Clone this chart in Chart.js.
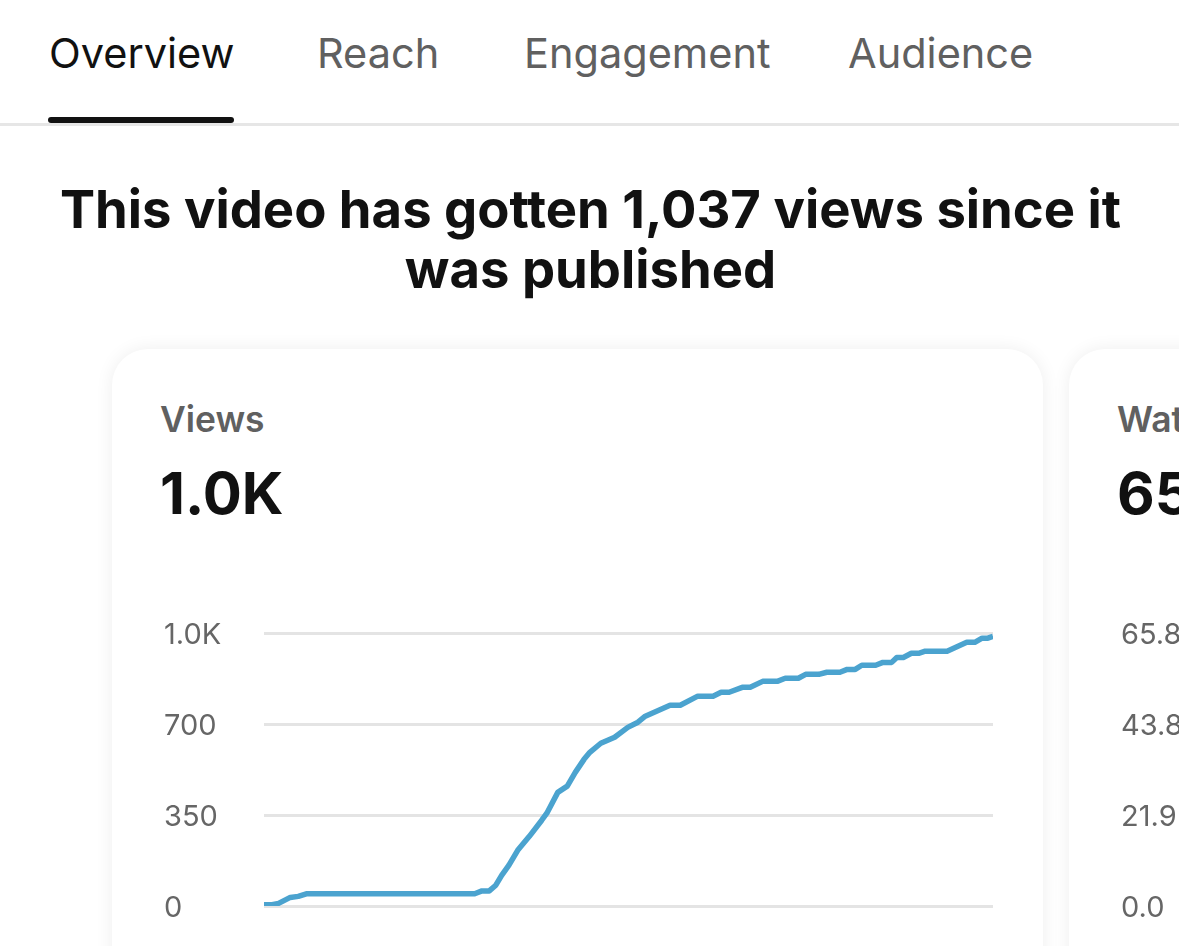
<!DOCTYPE html>
<html>
<head>
<meta charset="utf-8">
<title>Overview</title>
<script src="https://cdn.jsdelivr.net/npm/chart.js@4/dist/chart.umd.min.js"></script>
<style>
  html, body { margin: 0; height: 100%; background: #fff; overflow: hidden; }
  body { position: relative; width: 1179px; height: 946px; font-family: Inter, sans-serif; color: #111; }
  .tab { position: absolute; top: 29px; font-size: 41.5px; line-height: 48px; color: #606060; white-space: nowrap; }
  .tab.active { color: #111; }
  #underline { position: absolute; left: 48px; top: 117px; width: 186px; height: 6px; border-radius: 3px; background: #111; }
  #divider { position: absolute; left: 0; top: 123px; width: 1179px; height: 3px; background: #e6e6e6; }
  h1 { position: absolute; left: 0; top: 179px; width: 1181px; margin: 0; text-align: center; font-size: 52.6px; line-height: 60px; font-weight: 700; white-space: nowrap; }
  .card { position: absolute; top: 349px; height: 700px; background: #fff; border-radius: 36px; box-shadow: 0 0 18px rgba(0,0,0,.07); }
  .card-title { position: absolute; font-size: 35.4px; line-height: 40px; top: 400px; font-weight: 600; color: #606060; white-space: nowrap; }
  .card-value { position: absolute; font-size: 58px; line-height: 68px; top: 459px; font-weight: 700; white-space: nowrap; }
  canvas { position: absolute; top: 600px; }
</style>
</head>
<body>
  <div class="tab active" style="left:49px">Overview</div>
  <div class="tab" style="left:317px">Reach</div>
  <div class="tab" style="left:524px">Engagement</div>
  <div class="tab" style="left:848px">Audience</div>
  <div id="divider"></div>
  <div id="underline"></div>
  <h1>This video has gotten 1,037 views since it<br>was published</h1>

  <div class="card" style="left:112px;width:931px"></div>
  <div class="card" style="left:1069px;width:931px"></div>
  <div class="card-title" style="left:160px">Views</div>
  <div class="card-value" style="left:160px">1.0K</div>
  <div class="card-title" style="left:1117px">Watch time</div>
  <div class="card-value" style="left:1117px">65.8</div>

  <canvas id="views" style="left:164px;width:846px;height:340px"></canvas>
  <canvas id="watch" style="left:1121px;width:900px;height:340px"></canvas>

<script>
const hours = [0, 1.1, 2, 3.6, 4.7, 5.8, 28.9, 29.9, 30.9, 31.8, 32.6, 33.6, 34.8, 36.4, 38.1, 38.8, 40.3, 41.6, 42.7, 43.9, 44.7, 46.2, 48.1, 49.9, 51.3, 52.3, 55.7, 57.1, 59.5, 61.6, 62.7, 63.8, 65.6, 66.7, 68.4, 70.4, 71.5, 73.3, 74.3, 76.1, 77.2, 79, 80, 81.1, 82, 83.9, 84.9, 86.1, 86.8, 87.7, 88.8, 89.8, 90.7, 93.7, 96.4, 97.5, 98.5, 99.3, 100];
const views = [5, 5, 10, 33, 37, 47, 47, 58, 58, 80, 118, 157, 214, 268, 330, 357, 437, 461, 514, 564, 591, 626, 649, 687, 707, 730, 772, 772, 807, 807, 822, 822, 841, 841, 864, 864, 876, 876, 891, 891, 899, 899, 910, 910, 926, 926, 937, 937, 956, 956, 972, 972, 980, 980, 1014, 1014, 1030, 1030, 1037];

const viewTicks = [0, 350, 700, 1050];
const viewTickLabels = ['0', '350', '700', '1.0K'];
const watchTicks = [0, 21.9, 43.8, 65.8];
const watchTickLabels = ['0.0', '21.9', '43.8', '65.8'];

function makeChart(id, points, tickValues, tickLabels, axisWidth, rightPad) {
  return new Chart(document.getElementById(id), {
    type: 'line',
    data: {
      datasets: [{
        data: points,
        borderColor: '#4ba3cf',
        borderWidth: 5.5,
        pointRadius: 0,
        tension: 0,
        borderCapStyle: 'butt',
        borderJoinStyle: 'round'
      }]
    },
    options: {
      responsive: false,
      animation: false,
      layout: { padding: { top: 33, bottom: 34, right: rightPad, left: 0 } },
      plugins: { legend: { display: false }, tooltip: { enabled: false } },
      scales: {
        x: { type: 'linear', display: false, min: 0, max: 100 },
        y: {
          min: 0,
          max: tickValues[tickValues.length - 1],
          afterBuildTicks: (axis) => { axis.ticks = tickValues.map((value) => ({ value })); },
          afterFit: (axis) => { axis.width = axisWidth; },
          border: { display: false },
          grid: { color: '#e4e4e4', lineWidth: 3, drawTicks: false },
          ticks: {
            autoSkip: false,
            crossAlign: 'far',
            padding: 0,
            color: '#666',
            // the blank first line nudges labels down a little below their grid line
            font: { family: 'Inter', size: 29, lineHeight: '5px' },
            callback: (value) => ['', tickLabels[tickValues.indexOf(value)]]
          }
        }
      }
    }
  });
}

function setSize(id, w, h) {
  const c = document.getElementById(id);
  c.width = w;
  c.height = h;
}

setSize('views', 846, 340);
setSize('watch', 900, 340);

makeChart('views', hours.map((x, i) => ({ x, y: views[i] })), viewTicks, viewTickLabels, 100, 17);
makeChart('watch', [], watchTicks, watchTickLabels, 100, 17);
</script>
</body>
</html>
